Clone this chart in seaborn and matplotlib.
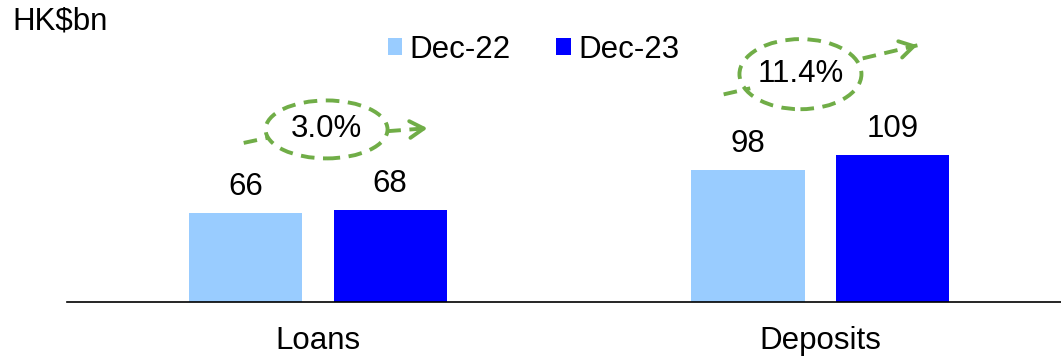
import numpy as np
import pandas as pd
import matplotlib.pyplot as plt
import seaborn as sns
from matplotlib.patches import Ellipse

# --- data ---
categories = ['Loans', 'Deposits']
periods = ['Dec-22', 'Dec-23']
dec22 = [66, 98]
dec23 = [68, 109]
growth = ['3.0%', '11.4%']

colors = ['#99CCFF', '#0000FF']
green = '#70AD47'

df = pd.DataFrame({
    'category': categories * 2,
    'period': [periods[0]] * 2 + [periods[1]] * 2,
    'value': dec22 + dec23,
})

sns.set_style('white')
plt.rcParams['font.family'] = ['Liberation Sans', 'DejaVu Sans']
plt.rcParams['text.color'] = 'black'
plt.rcParams['xtick.color'] = 'black'
plt.rcParams['xtick.labelcolor'] = 'black'
FS = 22.5

fig = plt.figure(figsize=(10.61, 3.58), dpi=100)
ax = fig.add_axes([67 / 1061, 56 / 358, 1 - 67 / 1061, 1 - 56 / 358])

sns.barplot(data=df, x='category', y='value', hue='period', palette=colors,
            width=0.575, gap=0.215, saturation=1, linewidth=0, ax=ax)

ax.set_xlim(-0.5, 1.48)
ax.set_ylim(0, 224)
ax.set_xlabel('')
ax.set_ylabel('')
ax.set_yticks([])
for s in ['top', 'right', 'left']:
    ax.spines[s].set_visible(False)
ax.spines['bottom'].set_color('black')
ax.spines['bottom'].set_linewidth(1.2)
ax.tick_params(axis='x', length=0, pad=17, labelsize=FS, labelcolor='black')

# value labels
for container in ax.containers:
    ax.bar_label(container, fmt='%d', padding=8, fontsize=FS, color='black')

# legend
handles, labels = ax.get_legend_handles_labels()
ax.legend(handles, labels, loc='center', bbox_to_anchor=(0.503, 1 - 50 / 358),
          bbox_transform=fig.transFigure, ncol=2, frameon=False, fontsize=FS,
          handlelength=0.46, handleheight=0.46, handletextpad=0.25,
          columnspacing=1.45, borderpad=0)

fig.text(12 / 1061, 1 - 22 / 358, 'HK$bn', fontsize=FS, va='center', ha='left')

# growth bubbles with dashed arrows (offsets relative to category / taller bar)
px_x, px_y = 502.0, 1.35  # pixels per data unit
ell_dx = [0.017, -0.039]
ell_h = [43, 52]
lead_in = [((-0.148, -10), (-0.098, -6)), ((-0.192, -15), (-0.139, -10.5))]
arrow_out = [((0.138, -1.3), (0.218, 0.9)), ((0.085, 11.7), (0.194, 21.4))]
dash = (0, (3.5, 2.2))
for i, cat in enumerate(categories):
    top = max(dec22[i], dec23[i]) + 60
    cx = i + ell_dx[i]
    ax.add_patch(Ellipse((cx, top), 0.243, ell_h[i], fill=False,
                         edgecolor=green, lw=2.8, ls=dash, clip_on=False))
    ax.text(cx, top, growth[i], fontsize=FS, ha='center', va='center')
    (x0, y0), (x1, y1) = lead_in[i]
    ax.plot([i + x0, i + x1], [top + y0, top + y1], color=green, lw=2.8,
            ls=dash, clip_on=False)
    (x0, y0), (x1, y1) = arrow_out[i]
    ax.plot([i + x0, i + x1], [top + y0, top + y1], color=green, lw=2.8,
            ls=dash, clip_on=False)
    # arrow head: step back a few pixels along the line direction
    vx, vy = (x1 - x0) * px_x, (y1 - y0) * px_y
    n = np.hypot(vx, vy)
    bx = i + x1 - 8 * vx / n / px_x
    by = top + y1 - 8 * vy / n / px_y
    ax.annotate('', xy=(i + x1, top + y1), xytext=(bx, by),
                arrowprops=dict(arrowstyle='->,head_length=1.0,head_width=0.6',
                                color=green, lw=2.8, shrinkA=0, shrinkB=0),
                annotation_clip=False)

fig.savefig('out.png', dpi=100)
